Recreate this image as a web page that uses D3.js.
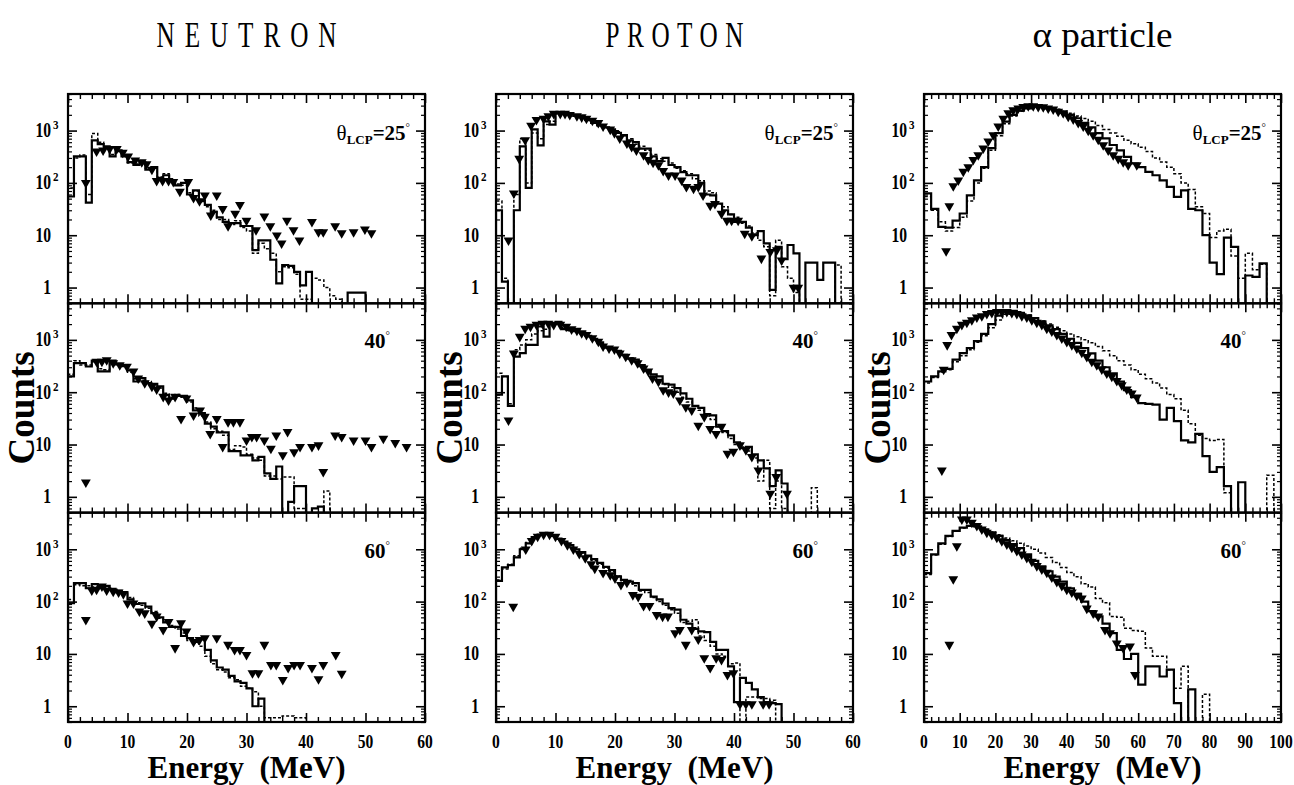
<!DOCTYPE html>
<html>
<head>
<meta charset="utf-8">
<script src="https://cdn.jsdelivr.net/npm/d3@7"></script>
<style>
  body { margin: 0; background: #fff; }
  svg { display: block; }
  text { font-family: "Liberation Serif", "Times New Roman", serif; fill: #000; }
</style>
</head>
<body>
<svg id="chart" width="1294" height="785" font-family="Liberation Serif, serif"></svg>
<script>
// ---- Column titles and axis labels ----
const columnTitles = ["NEUTRON", "PROTON", "\u03b1 particle"];
const angleLabels = ["25", "40", "60"];
const xTickLabelsNP = [0, 10, 20, 30, 40, 50, 60];
const xTickLabelsAlpha = [0, 10, 20, 30, 40, 50, 60, 70, 80, 90, 100];
const yTickValues = [1, 10, 100, 1000];
const yTickBase = ["1", "10", "10", "10"];
const yTickExp = ["", "", "2", "3"];

// ---- Neutron spectra (1 MeV bins from 0 MeV) ----
const neutron25Solid = [55, 320, 320, 42, 650, 550, 500, 320, 420, 320, 250, 220, 250, 180, 200, 125, 140, 110, 90, 100, 60, 72, 45, 38, 28, 22, 18, 17, 17, 15, 15, 5.2, 8, 8, 3.4, 1.2, 2.7, 2.6, 2.0, 1.1, 2.0, 0, 0, 0, 0, 0, 0, 0.8, 0.8, 0.8, 0];
const neutron25Dotted = [80, 300, 340, 60, 880, 600, 480, 350, 400, 330, 240, 230, 240, 190, 190, 130, 150, 110, 95, 90, 65, 70, 48, 35, 30, 20, 20, 16, 19, 14, 12, 4.5, 7, 5.5, 4.5, 2.0, 2.5, 2.4, 1.8, 0.6, 0.6, 1.5, 1.4, 1.0, 0.7, 0.6, 0];
const neutron25Data = [[3,100],[4.8,400],[5.9,420],[7,450],[8.2,450],[9.2,380],[10.1,320],[11.3,270],[12.4,250],[13.2,230],[14.1,180],[14.9,110],[15.9,110],[16.9,110],[17.7,105],[18.8,68],[20.2,105],[21.1,52],[22.1,45],[23,58],[24,24],[25,58],[26,32],[26.9,15],[28.1,26],[28.9,38],[30,19],[31.6,12.5],[33,23],[34,15],[35.1,10],[35.9,7],[36.8,19],[37.9,12.5],[38.9,8],[41,18],[42.1,11.5],[42.9,11.5],[44.9,15],[46,11],[48,11.5],[49.9,13],[51,11]];

const neutron40Solid = [200, 360, 360, 310, 400, 250, 250, 400, 340, 330, 260, 160, 185, 150, 145, 130, 88, 75, 85, 85, 70, 45, 40, 25, 22, 17, 17, 7.5, 7.5, 6.2, 6.2, 5, 5.8, 2.8, 2.2, 3.8, 0, 0.8, 1.6, 1.6, 0, 0.6, 0.65, 0];
const neutron40Dotted = [220, 400, 330, 330, 380, 280, 270, 380, 330, 310, 240, 180, 170, 160, 140, 120, 95, 80, 90, 80, 65, 50, 35, 27, 20, 18, 15, 8, 9.5, 9, 6.5, 5.5, 5, 2.5, 2.5, 2.2, 2.4, 2.4, 0.6, 0.6, 0, 0, 0, 1.3, 0];
const neutron40Data = [[3,1.9],[4.8,385],[5.7,385],[6.5,410],[7.6,360],[8.7,330],[9.9,310],[11,250],[11.8,185],[12.9,150],[14.1,128],[14.9,113],[16,82],[16.9,70],[18,82],[19,31],[19.9,76],[21.1,36],[22.2,45],[23,34],[23.9,16],[25,31],[26,9],[26.9,27],[27.8,27],[28.9,27],[30,12],[30.9,14],[31.7,14],[33,12],[34.1,8.4],[35,15],[36.1,6.3],[36.9,17.5],[38,7.2],[39,9],[41,9],[42.1,9.7],[42.9,3.0],[44.9,15],[46,14],[48,12],[50,12],[51,9],[53,13],[55,10.8],[56.9,9]];

const neutron60Solid = [93, 225, 225, 180, 215, 190, 200, 175, 160, 150, 110, 90, 93, 80, 60, 50, 40, 33, 33, 22, 20, 17, 19, 12, 7.5, 5.5, 5, 3.8, 3, 2.8, 2.2, 1.0, 1.4, 0];
const neutron60Dotted = [110, 210, 200, 200, 190, 200, 185, 170, 150, 140, 120, 95, 85, 75, 65, 48, 42, 35, 30, 25, 18, 16, 14, 9, 6.5, 5, 4.5, 3.5, 3.2, 2.4, 2.2, 1.9, 1.0, 0.6, 0.6, 0.6, 0.65, 0.65, 0.6, 0.6, 0];
const neutron60Data = [[3,45],[4,165],[4.8,170],[5.7,195],[6.5,165],[7.6,155],[8.5,150],[9.3,140],[10,93],[11,93],[12,65],[12.9,60],[14.1,38],[14.9,52],[16,29],[16.9,41],[18,13],[19,39],[19.9,27],[21.1,17],[22.1,18.6],[23,20],[25,20],[26.9,15],[28,12],[28.9,12],[30,9.6],[31,4.3],[32,4.3],[33,15],[34.1,6.2],[35,6.2],[36.1,3.2],[37,5.4],[38,6.2],[39,6.2],[41,5.4],[42.1,3.3],[42.9,6.2],[45,9.6],[46,4.2]];

// ---- Proton spectra (1 MeV bins from 0 MeV) ----
const proton25Solid = [30, 1.3, 0, 30, 500, 80, 1050, 520, 1500, 1300, 2200, 2200, 2100, 1900, 1800, 1600, 1400, 1250, 1150, 1050, 900, 820, 650, 600, 450, 450, 320, 260, 300, 220, 200, 160, 140, 140, 100, 60, 58, 40, 30, 25, 18, 18, 14, 10, 12, 7, 0.9, 6, 3.5, 6.5, 4.5, 0, 3, 3, 1.4, 3, 3, 0];
const proton25Dotted = [45, 1.5, 0, 60, 700, 100, 900, 700, 1300, 1500, 2100, 2100, 2000, 1900, 1750, 1550, 1400, 1300, 1150, 1000, 950, 800, 700, 550, 500, 420, 350, 290, 260, 240, 190, 170, 150, 120, 110, 70, 65, 40, 35, 25, 22, 17, 15, 11, 8, 6, 0.7, 8, 2.5, 1.5, 0.8, 0, 0, 0, 0, 0, 0, 2.7, 0];
const proton25Data = [[2.1,8],[3,63],[3.9,290],[4.9,660],[5.9,1250],[6.8,1600],[8,1700],[8.8,1900],[9.7,2100],[10.8,2100],[11.6,2100],[12.4,2000],[13.6,1900],[14.4,1800],[15.2,1700],[16.2,1550],[17.2,1400],[18,1200],[19.2,1050],[19.9,900],[20.8,710],[22,570],[22.8,490],[23.6,420],[24.8,340],[25.6,275],[26.4,245],[27.3,220],[28.1,170],[29,140],[30.1,140],[31.2,112],[32,84],[33.2,78],[34,84],[34.8,58],[36,37],[36.8,40],[37.9,26],[38.8,19],[39.6,19],[40.7,19],[41.8,10.8],[43,9.6],[44.6,3.6],[46.1,4.8],[47.2,5.2],[48,3.3],[50,1.0],[50.8,1.0]];

const proton40Solid = [90, 200, 55, 480, 560, 800, 800, 1800, 1150, 2100, 2200, 1600, 1550, 1500, 1400, 1200, 1050, 900, 720, 680, 620, 520, 440, 420, 330, 260, 220, 200, 145, 140, 120, 95, 75, 55, 50, 38, 36, 22, 18, 15, 11, 8.5, 9, 6.5, 5, 3.5, 1.6, 3.2, 1.8, 0];
const proton40Dotted = [230, 200, 60, 650, 800, 1000, 1300, 1500, 1600, 1800, 2000, 1700, 1500, 1450, 1300, 1150, 1000, 850, 700, 650, 580, 500, 450, 380, 310, 250, 200, 170, 140, 125, 100, 80, 65, 55, 45, 35, 30, 22, 17, 13, 10, 9, 7.5, 5.5, 2.0, 5, 0.6, 2.0, 0.6, 0, 0, 0, 0, 1.5, 0];
const proton40Data = [[2.1,29],[3,550],[4,1150],[4.9,1650],[5.8,1800],[6.8,1950],[7.8,2050],[8.8,2050],[9.7,1950],[10.8,1950],[11.8,1800],[12.7,1600],[13.6,1500],[14.4,1350],[15.2,1250],[16.2,1080],[17.2,930],[18,750],[19,690],[19.9,660],[20.8,550],[21.8,480],[22.8,410],[23.8,360],[24.8,285],[25.6,250],[26.3,185],[27.3,160],[28.1,110],[29,100],[29.8,95],[30.9,70],[31.9,52],[32.9,45],[34,23],[35,34],[36,20],[37,16],[37.9,22],[38.9,6.7],[39.9,7.3],[41,9.7],[42,7.8],[43,5.8],[44.1,3.2],[46.1,1.15],[47.1,2.4],[48.9,1.15]];

const proton60Solid = [250, 450, 500, 700, 1000, 1300, 1700, 1900, 2000, 1800, 1600, 1400, 1200, 1000, 880, 760, 650, 550, 460, 400, 300, 260, 240, 225, 168, 168, 125, 110, 92, 75, 70, 45, 38, 30, 27, 26, 17, 12, 12, 5.8, 1.2, 3.5, 2.8, 2.1, 1.5, 1.2, 1.15, 1.1, 0];
const proton60Dotted = [260, 420, 520, 750, 1050, 1350, 1650, 1850, 1950, 1750, 1550, 1350, 1150, 980, 850, 730, 620, 520, 440, 370, 310, 250, 220, 200, 160, 150, 120, 100, 85, 70, 60, 40, 42, 45, 22, 18, 14, 10, 9, 6.5, 6.7, 0.5, 1.5, 1.5, 1.4, 1.4, 1.3, 0];
const proton60Data = [[2.9,80],[5,1000],[6,1450],[7,1750],[8,1900],[9,1900],[10,1750],[11,1450],[12,1200],[13,1000],[14,820],[15,680],[16,520],[16.6,430],[18,355],[19.2,320],[20,280],[21,210],[22,230],[23,134],[23.9,124],[24.8,83],[25.8,83],[27,56],[28,52],[28.9,52],[30.1,25],[30.9,29],[31.9,15],[32.9,29],[34,19],[35,8.3],[36,5.4],[37,8.3],[37.9,7.7],[38.9,4.0],[39.9,4.3],[41,1.1],[42,1.1],[43,1.1],[44.9,1.1],[45.9,1.1]];

// ---- Alpha spectra (2 MeV bins from 0 MeV) ----
const alpha25Solid = [63, 32, 14.5, 14, 19, 26, 58, 112, 200, 460, 890, 1480, 2000, 2400, 2650, 2850, 2850, 2650, 2450, 2200, 2000, 1720, 1400, 1150, 890, 710, 530, 420, 315, 235, 200, 163, 140, 112, 84, 54, 72, 32, 30, 10, 3, 1.8, 9, 6, 0.3, 1.7, 1.6, 2.9, 0];
const alpha25Dotted = [55, 30, 18, 12, 14, 22, 45, 100, 190, 420, 800, 1350, 1900, 2350, 2650, 2850, 2900, 2750, 2550, 2350, 2150, 1900, 1700, 1500, 1250, 1050, 900, 780, 650, 560, 480, 400, 300, 250, 200, 150, 100, 75, 35, 26, 9, 12, 13, 4, 1.5, 4.5, 2.2, 2.8, 0];
const alpha25Data = [[6.2,5],[7.1,36],[8.2,87],[9.6,112],[11,165],[12.4,200],[13.8,275],[15.2,340],[16.6,460],[18,620],[19.4,820],[20.8,1200],[22.2,1700],[23.6,2150],[25,2450],[26.4,2650],[27.8,2850],[29.2,2950],[30.6,2950],[32,2850],[33.4,2800],[34.8,2650],[36.2,2550],[37.6,2300],[39,2150],[40.4,1850],[41.8,1650],[43.2,1400],[44.6,1200],[46,1000],[47.4,820],[48.8,670],[50.2,530],[51.6,420],[53,340],[54.4,290],[55.8,250],[57.2,220],[59.6,220]];

const alpha40Solid = [160, 200, 250, 280, 420, 560, 700, 950, 1300, 2000, 2900, 3500, 3600, 3300, 2900, 2600, 2250, 1900, 1600, 1300, 1050, 880, 700, 550, 400, 300, 230, 160, 110, 80, 62, 60, 58, 30, 50, 28, 12, 11, 16, 6, 3, 3.7, 1.6, 0, 1.9, 0];
const alpha40Dotted = [150, 190, 240, 270, 380, 500, 650, 900, 1200, 1700, 2400, 3100, 3400, 3300, 3000, 2650, 2300, 2000, 1750, 1500, 1300, 1150, 1000, 880, 750, 620, 500, 400, 330, 270, 220, 180, 150, 120, 90, 75, 45, 25, 15, 13, 12, 12.5, 1.2, 0, 0, 0, 0, 0, 2.6, 0];
const alpha40Data = [[5,3.2],[5.5,270],[6.5,800],[7.7,1250],[9.2,1650],[10.6,1950],[12,2150],[13.4,2400],[14.8,2700],[16.2,2850],[17.6,3150],[19,3300],[20.4,3450],[21.8,3450],[23.2,3450],[24.6,3300],[26,3150],[27.4,2850],[28.8,2700],[30.2,2400],[31.6,2150],[33,1950],[34.4,1650],[35.8,1450],[37.2,1250],[38.6,1070],[40,920],[41.4,800],[42.8,690],[44.2,570],[45.6,475],[47,385],[48.4,330],[49.8,275],[51.2,230],[52.6,200],[54,165],[55.4,137],[56.8,113],[58.2,95],[59.6,80]];

const alpha60Solid = [350, 800, 1300, 1800, 2250, 2600, 2800, 2750, 2400, 2100, 1800, 1500, 1250, 1050, 800, 600, 470, 380, 300, 240, 180, 140, 100, 66, 52, 38, 25, 12, 8, 10, 2.6, 5.8, 5.8, 3.7, 5, 1.15, 0, 2.1, 0];
const alpha60Dotted = [330, 780, 1250, 1750, 2200, 2550, 2750, 2700, 2450, 2150, 1900, 1650, 1450, 1300, 1150, 1000, 850, 700, 560, 450, 360, 300, 220, 190, 115, 95, 52, 50, 31, 28, 27, 13, 9, 9, 5, 2.2, 5.8, 0, 0, 1.7, 0];
const alpha60Data = [[7.1,15],[8.2,270],[9.2,1150],[10.6,3750],[12,3750],[13.4,3230],[14.8,2800],[16.2,2400],[17.6,2080],[19,1880],[20.4,1670],[21.8,1440],[23.2,1250],[24.6,1080],[26,930],[27.4,800],[28.8,690],[30.2,580],[31.6,480],[33,415],[34.4,360],[35.8,290],[37.2,240],[38.6,200],[40,170],[41.4,150],[42.8,130],[44.2,115],[45.6,74],[47.4,60],[48.8,52],[50.7,29],[52.1,25],[54,16],[55.8,13],[57.7,14],[59.1,4]];

// ---- Layout ----
const svg = d3.select("#chart");
const colLeft = [68, 496, 924], panelW = 357;
const rowTop = [94, 303.3, 512.7], panelH = 209.3;
const yDomain = [0.5, 5000];
const FLOOR = 0.05; // empty bins are drawn below the visible range

const columns = [
  { title: columnTitles[0], titleW: 180, titleSx: 0.72, adjust: "spacing", xmax: 60, bin: 1, xTicks: xTickLabelsNP,
    rows: [[neutron25Solid, neutron25Dotted, neutron25Data], [neutron40Solid, neutron40Dotted, neutron40Data], [neutron60Solid, neutron60Dotted, neutron60Data]] },
  { title: columnTitles[1], titleW: 138, titleSx: 0.72, adjust: "spacing", xmax: 60, bin: 1, xTicks: xTickLabelsNP,
    rows: [[proton25Solid, proton25Dotted, proton25Data], [proton40Solid, proton40Dotted, proton40Data], [proton60Solid, proton60Dotted, proton60Data]] },
  { title: columnTitles[2], titleW: 140, titleSx: 1, adjust: "spacingAndGlyphs", xmax: 100, bin: 2, xTicks: xTickLabelsAlpha,
    rows: [[alpha25Solid, alpha25Dotted, alpha25Data], [alpha40Solid, alpha40Dotted, alpha40Data], [alpha60Solid, alpha60Dotted, alpha60Data]] }
];

const yMinor = [];
[0.1, 1, 10, 100, 1000].forEach(d => { for (let k = 2; k <= 9; k++) { const v = k * d; if (v >= yDomain[0] && v <= yDomain[1] && !yTickValues.includes(v)) yMinor.push(v); } });

function histPoints(vals, bin) {
  const pts = [[0, FLOOR]];
  vals.forEach((v, i) => {
    const c = v > 0 ? v : FLOOR;
    pts.push([i * bin, c], [(i + 1) * bin, c]);
  });
  pts.push([vals.length * bin, FLOOR]);
  return pts;
}

function styleAxis(sel, w) {
  sel.select(".domain").remove();
  sel.selectAll(".tick line").attr("stroke", "#000").attr("stroke-width", w);
  sel.selectAll(".tick text").remove();
}

columns.forEach((col, ci) => {
  const left = colLeft[ci], right = left + panelW, cx = left + panelW / 2;
  const x = d3.scaleLinear().domain([0, col.xmax]).range([left, right]);
  const xMinor = d3.range(0, col.xmax + 0.01, 2).filter(v => v % 10 !== 0);

  // column title
  const tg = svg.append("g").attr("transform", `translate(${cx},47) scale(${col.titleSx},1)`);
  tg.append("text").attr("x", 0).attr("y", 0).attr("text-anchor", "middle")
    .attr("font-size", 35).attr("textLength", col.titleW / col.titleSx).attr("lengthAdjust", col.adjust)
    .text(col.title);

  col.rows.forEach((series, ri) => {
    const top = rowTop[ri], bottom = top + panelH;
    const y = d3.scaleLog().domain(yDomain).range([bottom, top]);
    const g = svg.append("g");
    const clipId = `clip-${ci}-${ri}`;
    svg.append("clipPath").attr("id", clipId).append("rect")
      .attr("x", left).attr("y", top).attr("width", panelW).attr("height", panelH);
    const plot = g.append("g").attr("clip-path", `url(#${clipId})`);

    const line = d3.line().x(d => x(d[0])).y(d => y(d[1]));
    // dotted model histogram
    plot.append("path").attr("d", line(histPoints(series[1], col.bin)))
      .attr("fill", "none").attr("stroke", "#000").attr("stroke-width", 1.5).attr("stroke-dasharray", "3,2");
    // solid model histogram
    plot.append("path").attr("d", line(histPoints(series[0], col.bin)))
      .attr("fill", "none").attr("stroke", "#000").attr("stroke-width", 2.2);
    // experimental points
    const sym = d3.symbol().type(d3.symbolTriangle).size(42);
    plot.selectAll("path.pt").data(series[2]).join("path").attr("class", "pt")
      .attr("d", sym).attr("fill", "#000")
      .attr("transform", d => `translate(${x(d[0])},${y(d[1])}) rotate(180)`);

    // inward ticks on all four sides
    const axes = [
      [d3.axisBottom(x), `translate(0,${bottom})`], [d3.axisTop(x), `translate(0,${top})`]
    ];
    axes.forEach(([ax, tr]) => {
      g.append("g").attr("transform", tr).call(ax.tickValues(col.xTicks).tickSize(-9).tickFormat("")).call(s => styleAxis(s, 1.6));
      g.append("g").attr("transform", tr).call(ax.tickValues(xMinor).tickSize(-5).tickFormat("")).call(s => styleAxis(s, 1.4));
    });
    const yaxes = [[d3.axisLeft(y), `translate(${left},0)`], [d3.axisRight(y), `translate(${right},0)`]];
    yaxes.forEach(([ax, tr]) => {
      g.append("g").attr("transform", tr).call(ax.tickValues(yTickValues).tickSize(-9).tickFormat("")).call(s => styleAxis(s, 1.6));
      g.append("g").attr("transform", tr).call(ax.tickValues(yMinor).tickSize(-4).tickFormat("")).call(s => styleAxis(s, 1.2));
    });

    // frame
    g.append("rect").attr("x", left).attr("y", top).attr("width", panelW).attr("height", panelH)
      .attr("fill", "none").attr("stroke", "#000").attr("stroke-width", 2.2);

    // y tick labels
    yTickValues.forEach((v, k) => {
      const yy = y(v);
      g.append("text").attr("transform", `translate(${left - 17},${yy + 6.5}) scale(0.78,1)`)
        .attr("text-anchor", "end").attr("font-weight", "bold").attr("font-size", 20).text(yTickBase[k]);
      if (yTickExp[k]) {
        g.append("text").attr("transform", `translate(${left - 15},${yy - 1.5}) scale(0.85,1)`)
          .attr("font-weight", "bold").attr("font-size", 13).text(yTickExp[k]);
      }
    });

    // angle label
    if (ri === 0) {
      const t = g.append("text").attr("x", right - 15).attr("y", top + 46).attr("text-anchor", "end");
      t.append("tspan").attr("font-size", 21).text("\u03b8");
      t.append("tspan").attr("font-size", 13).attr("font-weight", "bold").attr("dy", 4).text("LCP");
      t.append("tspan").attr("font-size", 21).attr("font-weight", "bold").attr("dy", -4).text("=" + angleLabels[ri]);
      t.append("tspan").attr("font-size", 11).attr("dy", -9).text("\u00b0");
    } else {
      const t = g.append("text").attr("x", right - 35).attr("y", top + 45).attr("text-anchor", "end");
      t.append("tspan").attr("font-size", 21).attr("font-weight", "bold").text(angleLabels[ri]);
      t.append("tspan").attr("font-size", 11).attr("dy", -9).text("\u00b0");
    }

    // Counts label on the middle row
    if (ri === 1) {
      svg.append("text").attr("transform", `translate(${left - 34},${(top + bottom) / 2}) rotate(-90)`)
        .attr("text-anchor", "middle").attr("font-weight", "bold").attr("font-size", 37).text("Counts");
    }

    // x tick labels on the bottom row
    if (ri === 2) {
      col.xTicks.forEach(v => {
        g.append("text").attr("transform", `translate(${x(v)},748) scale(0.82,1)`)
          .attr("text-anchor", "middle").attr("font-weight", "bold").attr("font-size", 19).text(v);
      });
    }
  });

  svg.append("text").attr("x", cx).attr("y", 778).attr("text-anchor", "middle")
    .attr("font-weight", "bold").attr("font-size", 31).text("Energy\u00a0\u00a0(MeV)");
});
</script>
</body>
</html>
